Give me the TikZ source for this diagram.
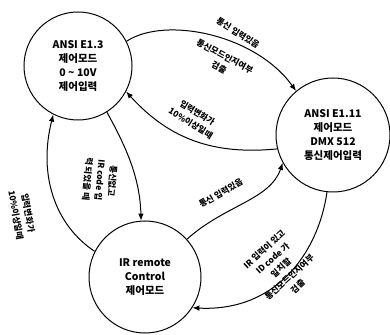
\documentclass[tikz,border=0pt]{standalone}
\usepackage{fontspec}
\newfontfamily\kr{Noto Sans CJK KR}
\usetikzlibrary{arrows.meta}
\begin{document}
\begin{tikzpicture}[x=1pt,y=1pt,
  state/.style={circle,draw,line width=1pt,minimum size=#1,inner sep=0pt,align=center,
    font=\kr\bfseries\fontsize{10.5}{14}\selectfont},
  edge/.style={line width=1pt,-{Latex[length=7pt,width=5.5pt]}},
  lab/.style={align=center,inner sep=0pt,font=\kr\bfseries\fontsize{8.5}{12.5}\selectfont}]
\useasboundingbox (0,0) rectangle (390,334);
\fill[white] (0,0) rectangle (390,334);
\node[state=108pt] (A) at (78,268) {ANSI E1.3\\제어모드\\0 \textasciitilde{} 10V\\제어입력};
\node[state=114pt] (B) at (333,199) {ANSI E1.11\\제어모드\\DMX 512\\통신제어입력};
\node[state=112pt] (C) at (145,57) {IR remote\\Control\\제어모드};
% edges
\draw[edge] (A.27) .. controls (165,318) and (255,300) .. (B.130);
\draw[edge] (B.194) .. controls (215,179) and (170,194) .. (A.-28);
\draw[edge] (A.-58) .. controls (128,184) and (140,154) .. (C.94);
\draw[edge] (C.153) .. controls (55,109) and (38,159) .. (A.243);
\draw[edge] (C.42) .. controls (225,129) and (270,134) .. (B.209);
\draw[edge] (B.264) .. controls (318,80) and (275,22) .. (C.-33);
% labels
\node[lab,rotate=-32] (l1a) at (238,301) {통신 입력있음};
\node[lab,rotate=-28] (l1b) at (222,272) {통신모드인지여부\\검출};
\node[lab,rotate=-32] (l2) at (194,216) {입력변화가\\10\%이상일때};
\node[lab,rotate=-95] (l3) at (100,154) {통신없고\\IR code 입\\력 되었을 때};
\node[lab,rotate=-80] (l4) at (22,120) {입력변화가\\10\%이상일때};
\node[lab,rotate=30] (l5) at (221,141) {통신 입력있음};
\node[lab,rotate=42] (l6) at (281,66) {IR 입력이 있고\\ID code 가\\일치할\\통신모드인지여부\\검출};
\end{tikzpicture}
\end{document}
